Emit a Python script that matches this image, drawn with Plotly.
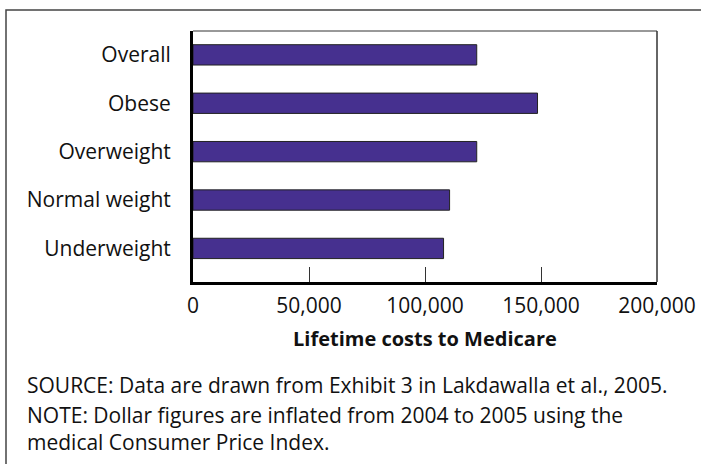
import plotly.graph_objects as go

# Data
categories = ["Underweight", "Normal weight", "Overweight", "Obese", "Overall"]
costs = [108000, 110600, 122300, 148500, 122300]
tick_values = [0, 50000, 100000, 150000, 200000]
tick_labels = ["0", "50,000", "100,000", "150,000", "200,000"]
x_title = "<b>Lifetime costs to Medicare</b>"
source_text = "SOURCE: Data are drawn from Exhibit 3 in Lakdawalla et al., 2005."
note_lines = ["NOTE: Dollar figures are inflated from 2004 to 2005 using the",
              "medical Consumer Price Index."]

W, H = 701, 464
FONT = "Open Sans"
FS = 21
TXT = "#111111"

def px_x(p):
    return p / W

def px_y(p):
    return 1 - p / H

fig = go.Figure()
fig.add_trace(go.Bar(
    y=categories, x=costs, orientation="h",
    width=0.42,
    marker=dict(color="rgb(70,48,143)", line=dict(color="#222222", width=1)),
    hoverinfo="x+y",
))

fig.update_layout(
    width=W, height=H,
    margin=dict(l=0, r=0, t=0, b=0, autoexpand=False),
    paper_bgcolor="white", plot_bgcolor="white",
    font=dict(family=FONT, size=FS, color=TXT),
    showlegend=False,
    xaxis=dict(
        domain=[px_x(193), px_x(657)],
        range=[0, 200000],
        tickvals=tick_values, ticktext=tick_labels,
        ticks="inside", ticklen=15, tickwidth=1, tickcolor="#333333",
        showline=True, linewidth=3, linecolor="black",
        showgrid=False, zeroline=False, automargin=False,
        tickfont=dict(family=FONT, size=FS, color=TXT),
        ticklabelstandoff=3,
        fixedrange=True,
    ),
    yaxis=dict(
        domain=[px_y(282), px_y(31)],
        type="category",
        categoryorder="array", categoryarray=categories,
        range=[-0.694, 4.493],
        ticks="", showline=True, linewidth=3, linecolor="black",
        showgrid=False, zeroline=False, automargin=False,
        tickfont=dict(family=FONT, size=FS, color=TXT),
        ticklabelstandoff=15,
        fixedrange=True,
    ),
    shapes=[
        # plot frame top and right
        dict(type="line", xref="x domain", yref="y domain", x0=0, x1=1, y0=1, y1=1,
             line=dict(color="#333333", width=1)),
        dict(type="line", xref="x domain", yref="y domain", x0=1, x1=1, y0=0, y1=1,
             line=dict(color="#333333", width=1.5)),
        # outer frame (right and bottom sides lie outside the picture)
        dict(type="rect", xref="paper", yref="paper",
             x0=px_x(6), x1=px_x(710), y0=px_y(472), y1=px_y(10),
             line=dict(color="#444444", width=1.5), fillcolor="rgba(0,0,0,0)", layer="below"),
    ],
    annotations=[
        dict(text=x_title, xref="paper", yref="paper", x=px_x(425), y=px_y(338),
             xanchor="center", yanchor="middle", showarrow=False,
             font=dict(family=FONT, size=20, color=TXT)),
        dict(text=source_text, xref="paper", yref="paper", x=px_x(25), y=px_y(385),
             xanchor="left", yanchor="middle", showarrow=False,
             font=dict(family=FONT, size=FS, color=TXT)),
        dict(text="<br>".join(note_lines), xref="paper", yref="paper", x=px_x(25), y=px_y(428),
             xanchor="left", yanchor="middle", showarrow=False, align="left",
             font=dict(family=FONT, size=FS, color=TXT)),
    ],
)

post = ("document.documentElement.style.overflow='hidden';"
        "document.body.style.margin='0';document.body.style.overflow='hidden';")
fig.write_html("out.html", config={"displayModeBar": False}, post_script=post)
